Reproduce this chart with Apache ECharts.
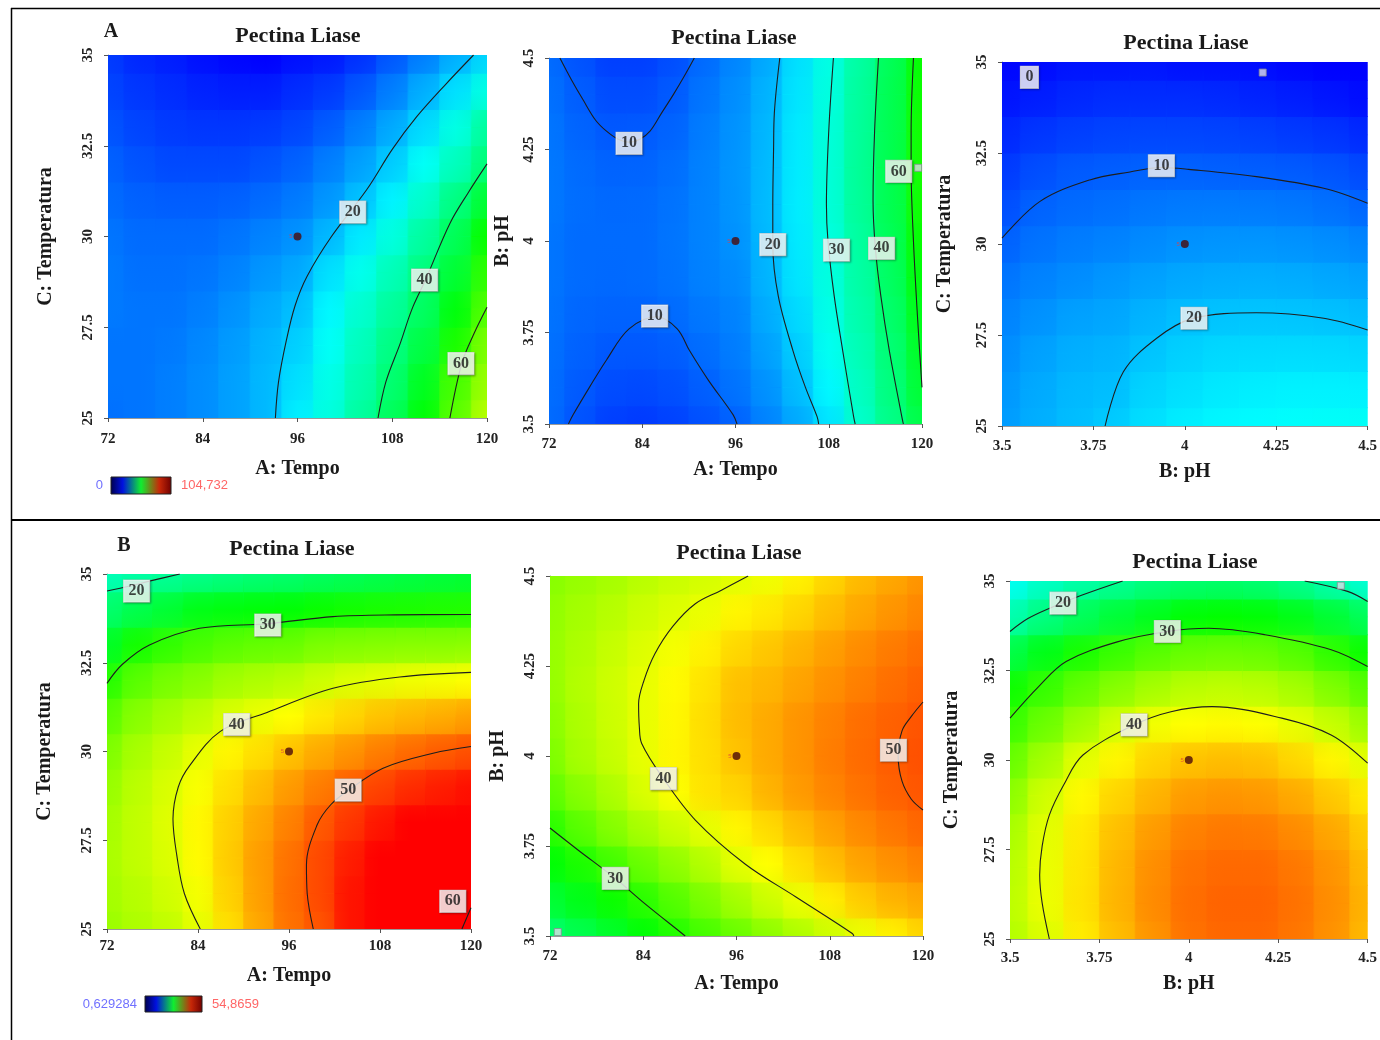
<!DOCTYPE html>
<html><head><meta charset="utf-8">
<script src="https://cdn.jsdelivr.net/npm/echarts/dist/echarts.min.js"></script>
<style>html,body{margin:0;padding:0;background:#fff}#chart{width:1380px;height:1040px}</style>
</head><body><div id="chart"></div>
<script>
// ---------- grid coordinates ----------
const tempoGrid = [72,76,80,84,88,92,96,100,104,108,112,116,120];
const temperaturaGrid = [25,26,27,28,29,30,31,32,33,34,35];
const phGrid = [3.5,3.6,3.7,3.8,3.9,4.0,4.1,4.2,4.3,4.4,4.5];

// ---------- Panel A1 : Tempo x Temperatura (rows Temperatura 25->35) ----------
const a1Values = [
 [11.5,12,13,14.5,16.5,19,24.5,29.5,36,43,51.5,61.5,71],
 [12,12,13,14.5,16.5,19,23,28.5,34.5,41,49,59.5,68],
 [12,12,12.5,14,16,18.5,21.5,27,33,39,45.5,55,65],
 [12.5,12,12,13,15,17.5,19.6,25.5,31,36.5,42.5,51,60.5],
 [12.5,11.5,11.5,12,13.5,15.5,17.4,23,28,33.5,39.5,47,57],
 [12,11,11,11,12,13.5,15,19,24,29.5,36,43.5,53],
 [11,10,9.5,9.5,10,11,12.6,15.5,20,25,31.5,39,47],
 [10,8.5,7.5,7.5,7.5,8.5,10.1,13,16.5,21,27,33,40],
 [8.5,7,6,5.5,5.5,6,7.2,9.5,13,17.5,22.5,29,36],
 [7,5.5,4.5,3.5,3,3,4.5,6,9,13,18,23,29],
 [6,4,3,1.5,0.5,0,1.5,2.5,5,9,13,18,22]
];
const a1Contour20 = [[93.2,25],[93.6,26],[94.6,27.15],[95.7,28.1],[97.2,28.9],[100.3,30],[104.8,31.3],[108,32.4],[111.1,33.3],[114.8,34.2],[118.3,35]];
const a1Contour40 = [[106.2,25],[107.2,26],[109,27.05],[110.5,28],[112.2,28.8],[115.3,30.36],[117.6,31.2],[120,32]];
const a1Contour60 = [[115.3,25],[116.8,26.5],[118.3,27.3],[120,28.05]];
const a1Labels = [[103.0,30.67,'20'],[112.1,28.8,'40'],[116.7,26.5,'60']];

// ---------- Panel A2 : Tempo x pH (rows pH 3.5->4.5) ----------
const a2Values = [
 [11,8.5,6.5,6,6.8,8.3,10.1,13.5,17.5,23.5,31.5,38.5,45],
 [11.2,9.2,7.8,7.5,8.2,9.8,11.8,15,19.4,25.5,32.5,39.5,47],
 [11.5,10,9,9,9.6,11.2,12.8,16.4,21,27.5,33.8,40.5,48.5],
 [11.8,10.5,10.2,10.2,11,12.3,13.5,17.6,22.4,28.5,34.8,41.5,50],
 [12,11,10.8,11,11.8,13.2,14.3,18.5,23.5,29.4,35.5,42.5,51.5],
 [12,11,11,11,12,13.5,15,19,24,29.5,36,43.5,53],
 [12.3,11.2,10.8,10.9,11.8,13.5,15.3,19.2,24.3,30.2,36.8,44.2,54],
 [12.3,11,10.2,10.3,11.3,13.3,15.4,19.1,24.2,30.2,37,44.5,54.5],
 [12,10.3,9,9.2,10.3,12.8,15.1,18.8,24,30,36.6,44.2,54],
 [11.5,9.5,7.8,7.8,9.2,12,14.6,18.4,23.5,29.5,36.3,44,53.5],
 [11,8.5,6.5,6.5,8,11,13.8,17.5,23,29,35.8,43.5,53]
];
const a2Contour10Top = [[73.4,4.5],[74.9,4.44],[76.4,4.385],[78,4.33],[79.4,4.30],[80.9,4.278],[82.3,4.27],[83.7,4.278],[85,4.30],[86.5,4.35],[88,4.40],[89.4,4.45],[90.7,4.5]];
const a2Contour10Bottom = [[74.5,3.5],[75.1,3.525],[77.2,3.6],[79.4,3.675],[82.3,3.76],[85.9,3.793],[88.5,3.76],[90.1,3.70],[92.5,3.62],[95.7,3.525],[96.2,3.5]];
const a2Contour20 = [[101.7,4.5],[101.0,4.35],[100.9,4.25],[100.8,4.1],[100.8,3.99],[101.5,3.85],[103.4,3.70],[105,3.6],[106.5,3.52],[106.7,3.5]];
const a2Contour30 = [[108.6,4.5],[108.0,4.3],[107.7,4.1],[107.9,4.0],[108.7,3.85],[109.8,3.7],[111.2,3.52],[111.4,3.5]];
const a2Contour40 = [[114.4,4.5],[113.9,4.3],[113.7,4.11],[114,3.98],[114.7,3.85],[115.8,3.7],[117.4,3.52],[117.6,3.5]];
const a2Contour60 = [[118.9,4.5],[118.6,4.3],[118.6,4.2],[118.9,4.0],[119.4,3.8],[120,3.6]];
const a2Labels = [[82.3,4.267,'10'],[85.6,3.795,'10'],[100.8,3.99,'20'],[109,3.975,'30'],[114.8,3.98,'40'],[117,4.19,'60']];
const a2Marks = [[119.5,4.2]];

// ---------- Panel A3 : pH x Temperatura (rows Temperatura 25->35) ----------
const a3Values = [
 [16,18,19.5,20.8,23,24.5,25.5,26,26.5,26.8,27],
 [15.5,17.5,19,19.5,21.8,23,24,24.5,24.8,24.8,24.7],
 [14.5,16.5,18,18.5,20.1,21.5,22.3,22.5,22.6,22.5,22.2],
 [13.5,15,16.5,17,18.5,19.6,20.1,20.3,20.2,19.9,19.4],
 [12,13.5,14.5,15.5,16.5,17.4,17.8,18,17.8,17.3,16.7],
 [10.1,11.8,12.8,13.5,14.3,15,15.3,15.4,15.1,14.6,13.8],
 [8,10.2,11,11.5,12.2,12.6,12.7,12.6,12.3,11.6,10.5],
 [6,8,9.2,9.7,10.1,10.1,9.9,9.7,9.3,8.6,7.5],
 [4,5.5,6.5,7,7.2,7.2,7,6.6,6,5.3,4.2],
 [2,3,4,4.5,4.5,4.5,4.2,3.6,3,2.2,1.2],
 [0.5,1,2,2,2.2,1.5,1.5,1.2,0.5,-0.5,-1.5]
];
const a3Contour10 = [[3.5,30.16],[3.604,31.17],[3.74,31.76],[3.85,31.98],[3.936,32.1],[4.01,32.05],[4.196,31.85],[4.38,31.53],[4.5,31.12]];
const a3Contour20 = [[3.782,25],[3.832,26.49],[3.923,27.41],[4.02,27.95],[4.196,28.11],[4.38,27.96],[4.5,27.64]];
const a3Labels = [[3.575,34.58,'0'],[3.936,32.15,'10'],[4.025,27.96,'20']];
const a3Marks = [[4.213,34.71]];

// ---------- Panel B1 : Tempo x Temperatura ----------
const b1Values = [
 [36,37,38,40,43,46,48.8,50.4,53.8,56.5,58.5,59.7,60.6],
 [36.5,37.5,38.8,40.8,43.7,46.4,49,51,53.8,56.2,58,59.2,60],
 [36.8,38,39.4,41.5,44,46.5,48.8,51,53.3,55.3,56.8,58,58.8],
 [36.5,38,39.6,41.6,43.8,46,48,50.1,52,53.7,55,56,56.8],
 [35.8,37.7,39.3,41,43,44.8,46.6,48.2,49.9,51.3,52.5,53.3,54],
 [34.5,36.7,38.3,40.1,41.8,43,44.5,45.8,47,48.2,49.2,50,50.6],
 [32.5,35,36.5,37.8,39.3,40.3,41.3,42.5,43.5,44.5,45.1,45.6,46.3],
 [29.7,32.5,34,35,36.3,37,37.6,38.6,39.5,40,40.5,40.8,41.2],
 [25.8,28.8,30.3,31.5,32.5,33,33.2,34.3,34.6,34.8,35,35,35.2],
 [22,23.7,25,26.5,27,27.3,27.5,28.2,28.7,29,29.2,29.4,29.5],
 [18,19,19.7,20.4,21,21.6,22,22.7,23.2,23.7,24.2,24.6,25]
];
const b1Contour20 = [[72,34.52],[75,34.66],[78,34.82],[81.6,35]];
const b1Contour30 = [[72,31.92],[74,32.45],[77.6,33.0],[84.2,33.47],[93.2,33.6],[101.8,33.8],[110,33.85],[120,33.86]];
const b1Contour40 = [[84.3,25],[82.2,26],[81.2,27.08],[80.7,28.1],[81.4,29],[82.9,29.6],[86.9,30.56],[93.1,31.1],[101.8,31.78],[110.6,32.1],[120,32.23]];
const b1Contour50 = [[99.2,25],[98.4,26],[98.3,26.8],[99.7,27.93],[101.5,28.5],[103.8,28.9],[108.4,29.53],[115,29.95],[120,30.14]];
const b1Contour60 = [[118.8,25],[120,25.6]];
const b1Labels = [[75.9,34.52,'20'],[93.2,33.56,'30'],[89.1,30.76,'40'],[103.8,28.91,'50'],[117.6,25.78,'60']];

// ---------- Panel B2 : Tempo x pH ----------
const b2Values = [
 [22,23.6,25.5,27.5,29.5,31.4,33.3,35.2,37,38.7,40.3,42,43.5],
 [25,26.5,28.3,30,32.2,34.3,36.5,38.6,40.3,42.2,44,45.3,46],
 [27.5,29.2,31.2,33.4,35.4,37.3,39.8,41.3,43,44.7,46.2,47.2,48],
 [30,32.5,34.8,36.8,38.6,40,41.8,43.2,44.8,46.3,47.6,48.6,49.4],
 [32.8,35,37,39.3,41.2,42.8,43.6,45.3,46.6,47.8,48.8,49.7,50.3],
 [34.5,36.7,38.3,40.1,41.8,43,44.5,45.8,47,48.2,49.2,50,50.6],
 [35.2,37,38.6,40.1,41.7,43.1,44.8,45.8,47,48,49,49.7,50.4],
 [35.7,37.3,38.7,40.1,41.5,42.8,44.6,45.2,46.2,47.2,48.1,49,49.7],
 [35.8,37,38.3,39.5,40.8,42,43.4,44.3,45.3,46.4,47.4,48.3,49],
 [35.5,36.5,37.5,38.6,39.5,40.3,41.8,42.5,43.5,44.8,46,47,47.8],
 [35,35.8,36.6,37.6,38.4,39,39.8,40.5,42,43.5,45,46,47]
];
const b2Contour30 = [[72,3.8],[75.6,3.739],[80.4,3.66],[84.2,3.59],[89,3.507],[89.4,3.5]];
const b2Contour40 = [[97.5,4.5],[94,4.46],[90.7,4.423],[87.8,4.36],[85.5,4.284],[84.1,4.21],[83.4,4.145],[83.5,4.08],[83.8,4.035],[86.6,3.937],[90.7,3.822],[97.1,3.70],[103.6,3.609],[110.9,3.507],[111.1,3.5]];
const b2Contour50 = [[120,4.15],[118.5,4.11],[117.3,4.07],[116.8,4.0],[117.3,3.93],[118.5,3.88],[120,3.85]];
const b2Labels = [[80.4,3.66,'30'],[86.6,3.937,'40'],[116.2,4.016,'50']];
const b2Marks = [[73,3.511]];

// ---------- Panel B3 : pH x Temperatura ----------
const b3Values = [
 [37.3,39.5,42.3,44.8,47,48.8,49.4,49.4,48.6,47.1,45],
 [37.8,40.3,42.8,45.3,47.5,49,49.6,49.6,48.8,47.3,45.3],
 [37.6,40.2,42.7,45.2,47.3,48.8,49.3,49.3,48.5,47,45],
 [36.8,39.8,42.4,44.7,46.6,48,48.5,48.4,47.5,46,44],
 [35.3,38.8,41.6,43.6,45.3,46.6,47,46.8,45.8,44.2,42.4],
 [33.3,36.5,39.8,41.8,43.6,44.5,44.8,44.6,43.4,41.8,39.8],
 [30.8,33.5,36.3,39,40.6,41.3,41.5,41.2,40.1,38.3,36],
 [28.5,30.6,33,35,36.6,37.6,37.9,37.6,36.5,34.5,32.4],
 [24,26.5,29,30.8,32.3,33.2,33.5,33.3,32.2,30.2,28.3],
 [18.5,21,23,24.8,26.2,27.5,27.8,27.5,26.5,25,23],
 [15,17.3,19,20,21.2,22,22.2,21.8,20.4,18.6,16.5]
];
const b3Contour20Left = [[3.5,33.59],[3.55,33.95],[3.611,34.24],[3.7,34.6],[3.815,35]];
const b3Contour20Right = [[4.324,35],[4.444,34.71],[4.5,34.43]];
const b3Contour30 = [[3.5,31.17],[3.58,32.05],[3.657,32.75],[3.8,33.3],[3.94,33.59],[4.056,33.68],[4.213,33.5],[4.398,33.08],[4.5,32.61]];
const b3Contour40 = [[3.61,25],[3.59,26],[3.583,26.79],[3.59,27.6],[3.61,28.46],[3.65,29.3],[3.704,30.14],[3.847,30.98],[3.95,31.35],[4.065,31.49],[4.26,31.17],[4.398,30.7],[4.5,29.91]];
const b3Labels = [[3.648,34.38,'20'],[3.94,33.59,'30'],[3.847,30.98,'40']];
const b3Marks = [[4.425,34.87]];

// ---------- colour scale ----------
const scaleA = [0, 104.732];
const scaleB = [0.629284, 54.8659];
const scaleALabels = ['0', '104,732'];
const scaleBLabels = ['0,629284', '54,8659'];

// ---------- layout / styles ----------
const serif = '"Liberation Serif","DejaVu Serif",serif';
const palette = ['#0000ff','#00ffff','#00ff00','#ffff00','#ff0000'];
const tempoAxis = {name:'A: Tempo', min:72, max:120, interval:12};
const temperaturaAxis = {name:'C: Temperatura', min:25, max:35, interval:2.5};
const phAxis = {name:'B: pH', min:3.5, max:4.5, interval:0.25};

const panels = [
 {box:[108,55,379,363], x:tempoAxis, y:temperaturaAxis, xs:tempoGrid, ys:temperaturaGrid, dx:4, dy:1, values:a1Values,
  contours:[a1Contour20,a1Contour40,a1Contour60], labels:a1Labels, center:[[96,30]], marks:[], scale:0, xGap:41, yGap:52, xMargin:14, title:[298,36]},
 {box:[549,58,373,366], x:tempoAxis, y:phAxis, xs:tempoGrid, ys:phGrid, dx:4, dy:0.1, values:a2Values,
  contours:[a2Contour10Top,a2Contour10Bottom,a2Contour20,a2Contour30,a2Contour40,a2Contour60], labels:a2Labels, center:[[96,4]], marks:a2Marks, scale:0, xGap:36, yGap:36, xMargin:13, title:[734,38]},
 {box:[1002,62,366,364], x:phAxis, y:temperaturaAxis, xs:phGrid, ys:temperaturaGrid, dx:0.1, dy:1, values:a3Values,
  contours:[a3Contour10,a3Contour20], labels:a3Labels, center:[[4,30]], marks:a3Marks, scale:0, xGap:36, yGap:47, xMargin:13, title:[1186,43]},
 {box:[107,574,364,355], x:tempoAxis, y:temperaturaAxis, xs:tempoGrid, ys:temperaturaGrid, dx:4, dy:1, values:b1Values,
  contours:[b1Contour20,b1Contour30,b1Contour40,b1Contour50,b1Contour60], labels:b1Labels, center:[[96,30]], marks:[], scale:1, xGap:37, yGap:52, xMargin:10, title:[292,549]},
 {box:[550,576,373,360], x:tempoAxis, y:phAxis, xs:tempoGrid, ys:phGrid, dx:4, dy:0.1, values:b2Values,
  contours:[b2Contour30,b2Contour40,b2Contour50], labels:b2Labels, center:[[96,4]], marks:b2Marks, scale:1, xGap:38, yGap:42, xMargin:13, title:[739,553]},
 {box:[1010,581,360,358], x:phAxis, y:temperaturaAxis, xs:phGrid, ys:temperaturaGrid, dx:0.1, dy:1, values:b3Values,
  contours:[b3Contour20Left,b3Contour20Right,b3Contour30,b3Contour40], labels:b3Labels, center:[[4,30]], marks:b3Marks, scale:1, xGap:35, yGap:48, xMargin:12, title:[1195,562]}
];

function cells(xs, ys, rows) {
  const out = [];
  rows.forEach((row, j) => row.forEach((v, i) => out.push([xs[i], ys[j], v])));
  return out;
}
function clipTo(cs, r) {
  return echarts.graphic.clipRectByRect(r, {x: cs.x, y: cs.y, width: cs.width, height: cs.height});
}
// Row layer: each value is joined to its right neighbour with the colours the visualMap gives both.
function rowRenderer(xs, ys, dy) {
  const nx = xs.length;
  return function (params, api) {
    const k = params.dataIndexInside, i = k % nx;
    if (i === nx - 1) return;
    const y = api.value(1);
    const p1 = api.coord([xs[i], y + dy / 2]);
    const p2 = api.coord([xs[i + 1], y - dy / 2]);
    const shape = clipTo(params.coordSys, {x: p1[0] - 0.5, y: p1[1] - 0.5, width: p2[0] - p1[0] + 1, height: p2[1] - p1[1] + 1});
    if (!shape) return;
    const c0 = api.visual('color', k), c1 = api.visual('color', k + 1);
    return {type: 'rect', shape: shape, style: {fill: new echarts.graphic.LinearGradient(
      (p1[0] - shape.x) / shape.width, 0, (p2[0] - shape.x) / shape.width, 0,
      [{offset: 0, color: c0}, {offset: 1, color: c1}])}};
  };
}
// Column layer: each value is joined to the one above it, drawn half transparent over the row layer.
function colRenderer(xs, ys, dx) {
  const nx = xs.length, ny = ys.length;
  return function (params, api) {
    const k = params.dataIndexInside, j = Math.floor(k / nx);
    if (j === ny - 1) return;
    const x = api.value(0);
    const p1 = api.coord([x - dx / 2, ys[j + 1]]);
    const p2 = api.coord([x + dx / 2, ys[j]]);
    const shape = clipTo(params.coordSys, {x: p1[0] - 0.5, y: p1[1] - 0.5, width: p2[0] - p1[0] + 1, height: p2[1] - p1[1] + 1});
    if (!shape) return;
    const cTop = api.visual('color', k + nx), cBot = api.visual('color', k);
    return {type: 'rect', shape: shape, style: {opacity: 0.5, fill: new echarts.graphic.LinearGradient(
      0, (p1[1] - shape.y) / shape.height, 0, (p2[1] - shape.y) / shape.height,
      [{offset: 0, color: cTop}, {offset: 1, color: cBot}])}};
  };
}

const grids = [], xAxes = [], yAxes = [], series = [], graphics = [];
const cellSeriesA = [], cellSeriesB = [];
function axisCommon(def, gap, margin, rotate) {
  return {
    type: 'value', min: def.min, max: def.max, interval: def.interval,
    name: def.name, nameLocation: 'middle', nameGap: gap,
    nameTextStyle: {fontFamily: serif, fontWeight: 'bold', fontSize: 20, color: '#1a1a1a'},
    axisLine: {show: true, onZero: false, lineStyle: {color: '#9a9a9a', width: 1}},
    axisTick: {show: true, length: 4, lineStyle: {color: '#555'}},
    axisLabel: {fontFamily: serif, fontWeight: 'bold', fontSize: 15, color: '#222', margin: margin, rotate: rotate},
    splitLine: {show: false}
  };
}
panels.forEach((p, i) => {
  grids.push({left: p.box[0], top: p.box[1], width: p.box[2], height: p.box[3], show: false});
  xAxes.push(Object.assign({gridIndex: i}, axisCommon(p.x, p.xGap, p.xMargin, 0)));
  yAxes.push(Object.assign({gridIndex: i}, axisCommon(p.y, p.yGap, 12, 90)));
  const data = cells(p.xs, p.ys, p.values);
  const list = p.scale === 0 ? cellSeriesA : cellSeriesB;
  list.push(series.length);
  series.push({type: 'custom', xAxisIndex: i, yAxisIndex: i, renderItem: rowRenderer(p.xs, p.ys, p.dy),
    data: data, encode: {x: 0, y: 1}, z: 1, silent: true, clip: true});
  list.push(series.length);
  series.push({type: 'custom', xAxisIndex: i, yAxisIndex: i, renderItem: colRenderer(p.xs, p.ys, p.dx),
    data: data, encode: {x: 0, y: 1}, z: 2, silent: true, clip: true});
  p.contours.forEach(c => series.push({type: 'line', xAxisIndex: i, yAxisIndex: i, data: c, smooth: 0.35,
    symbol: 'none', clip: true, z: 3, silent: true, lineStyle: {color: '#1e1e1e', width: 1.1}}));
  series.push({type: 'scatter', xAxisIndex: i, yAxisIndex: i, z: 6, silent: true, symbol: 'rect', symbolSize: 1,
    itemStyle: {color: 'rgba(0,0,0,0)'},
    data: p.labels.map(l => ({value: [l[0], l[1]], label: {formatter: l[2]}})),
    label: {show: true, position: 'inside', fontFamily: serif, fontWeight: 'bold', fontSize: 16, color: '#151515',
      backgroundColor: '#ffffff', padding: [4, 5, 2, 5], borderColor: '#d0d0d0', borderWidth: 0.6,
      shadowColor: 'rgba(0,0,0,0.3)', shadowOffsetX: 1, shadowOffsetY: 1, shadowBlur: 2}});
  series.push({type: 'scatter', xAxisIndex: i, yAxisIndex: i, z: 7, silent: true, symbol: 'circle', symbolSize: 8,
    itemStyle: {color: '#4b0a0a'}, data: p.center,
    label: {show: true, position: 'left', distance: 1, formatter: '5', fontSize: 6, color: '#e04040'}});
  if (p.marks.length) series.push({type: 'scatter', xAxisIndex: i, yAxisIndex: i, z: 7, silent: true, symbol: 'rect',
    symbolSize: 7, itemStyle: {color: '#dcdce6', borderColor: '#8a8a95', borderWidth: 1}, data: p.marks});
  graphics.push({type: 'text', x: p.title[0], y: p.title[1], style: {text: 'Pectina Liase', fontFamily: serif,
    fontWeight: 'bold', fontSize: 22, fill: '#1a1a1a', textAlign: 'center', textVerticalAlign: 'middle'}});
});

// frame
graphics.push({type: 'line', shape: {x1: 11, y1: 8.5, x2: 1380, y2: 8.5}, style: {stroke: '#000', lineWidth: 1.5}});
graphics.push({type: 'line', shape: {x1: 11.5, y1: 8, x2: 11.5, y2: 1040}, style: {stroke: '#000', lineWidth: 1.5}});
graphics.push({type: 'line', shape: {x1: 11, y1: 520, x2: 1380, y2: 520}, style: {stroke: '#000', lineWidth: 2}});
// panel letters
graphics.push({type: 'text', x: 111, y: 32, style: {text: 'A', fontFamily: serif, fontWeight: 'bold', fontSize: 20, fill: '#1a1a1a', textAlign: 'center', textVerticalAlign: 'middle'}});
graphics.push({type: 'text', x: 124, y: 546, style: {text: 'B', fontFamily: serif, fontWeight: 'bold', fontSize: 20, fill: '#1a1a1a', textAlign: 'center', textVerticalAlign: 'middle'}});
// colour legends
function legend(x, y, w, h, lo, hi) {
  graphics.push({type: 'text', x: x - 8, y: y + h / 2, style: {text: lo, fontFamily: '"Liberation Sans",Arial,sans-serif', fontSize: 13, fill: '#7070ff', textAlign: 'right', textVerticalAlign: 'middle'}});
  graphics.push({type: 'rect', shape: {x: x, y: y, width: w, height: h}, style: {stroke: '#222', lineWidth: 1,
    fill: new echarts.graphic.LinearGradient(0, 0, 1, 0, [
      {offset: 0, color: '#00004a'}, {offset: 0.2, color: '#0010e0'}, {offset: 0.5, color: '#10ee30'},
      {offset: 0.8, color: '#c82808'}, {offset: 1, color: '#700000'}])}});
  graphics.push({type: 'text', x: x + w + 10, y: y + h / 2, style: {text: hi, fontFamily: '"Liberation Sans",Arial,sans-serif', fontSize: 13, fill: '#ff6666', textAlign: 'left', textVerticalAlign: 'middle'}});
}
legend(111, 477, 60, 17, scaleALabels[0], scaleALabels[1]);
legend(145, 996, 57, 16, scaleBLabels[0], scaleBLabels[1]);

const chart = echarts.init(document.getElementById('chart'), null, {renderer: 'canvas'});
chart.setOption({
  animation: false,
  backgroundColor: '#ffffff',
  grid: grids, xAxis: xAxes, yAxis: yAxes,
  visualMap: [
    {type: 'continuous', show: false, seriesIndex: cellSeriesA, dimension: 2, min: scaleA[0], max: scaleA[1], inRange: {color: palette}},
    {type: 'continuous', show: false, seriesIndex: cellSeriesB, dimension: 2, min: scaleB[0], max: scaleB[1], inRange: {color: palette}}
  ],
  graphic: graphics,
  series: series
});
</script></body></html>
